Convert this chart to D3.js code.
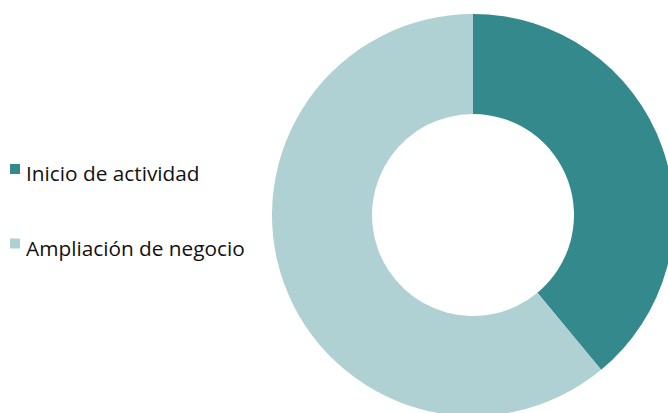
<!DOCTYPE html>
<html><head><meta charset="utf-8">
<script src="https://cdn.jsdelivr.net/npm/d3@7"></script>
<style>body{margin:0;background:#fff;}svg{display:block;}</style>
</head><body>
<svg id="c" width="668" height="413"></svg>
<script>
const categories = ["Inicio de actividad", "Ampliación de negocio"];
const values = [39, 61];
const colors = ["#33898C", "#B0D1D4"];

const svg = d3.select("#c");
const cx = 473, cy = 215, rOuter = 201, rInner = 101;
const pie = d3.pie().sort(null).value(d => d)(values);
const arc = d3.arc().innerRadius(rInner).outerRadius(rOuter);
const g = svg.append("g").attr("transform", `translate(${cx},${cy})`);
g.selectAll("path").data(pie).join("path")
  .attr("d", arc).attr("fill", (d, i) => colors[i]);

const leg = svg.append("g");
const rows = leg.selectAll("g").data(categories).join("g")
  .attr("transform", (d, i) => `translate(10,${164 + i * 74.5})`);
rows.append("rect").attr("width", 10).attr("height", 10)
  .attr("fill", (d, i) => colors[i]);
rows.append("text").attr("x", 16).attr("y", 17)
  .attr("font-family", "'Open Sans', sans-serif").attr("font-size", 20.8)
  .attr("fill", "#111").text(d => d);
</script>
</body></html>
